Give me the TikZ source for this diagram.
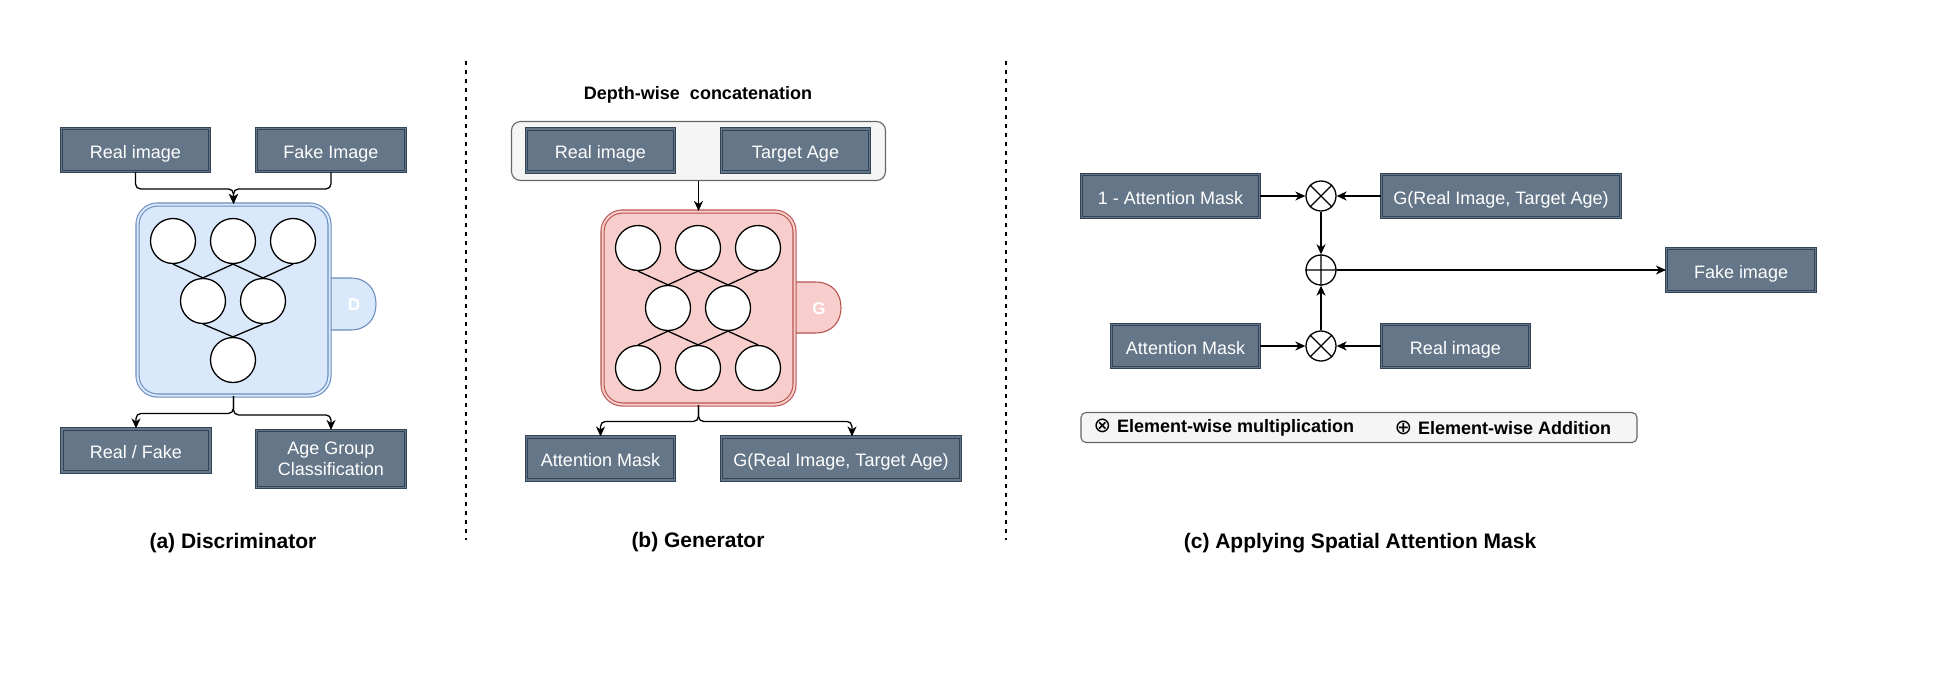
\documentclass[tikz,border=0pt]{standalone}
\usepackage{fontspec}
\setmainfont{Liberation Sans}
\newfontfamily\symfont{DejaVu Sans}
\usetikzlibrary{arrows.meta}
\definecolor{boxfill}{HTML}{647687}
\definecolor{boxline}{HTML}{314354}
\definecolor{dfill}{HTML}{DAE8FC}
\definecolor{dline}{HTML}{6C8EBF}
\definecolor{gfill}{HTML}{F8CECC}
\definecolor{gline}{HTML}{B85450}
\definecolor{catfill}{HTML}{F5F5F5}
\definecolor{catline}{HTML}{666666}
\tikzset{
  arr/.style={-{Stealth[length=10pt,width=9pt,inset=3pt]}, line width=1.3pt},
  link/.style={line width=1.3pt},
  darkbox/.style={draw=boxline, fill=boxfill, double=boxfill, double distance=1.6pt, line width=1.1pt,
    text=white, minimum height=43pt, inner sep=2pt, font=\fontsize{18}{21}\selectfont, align=center,
    text height=17pt, text depth=0.4pt},
  netbox/.style={draw=#1line, fill=#1fill, double=#1fill, double distance=2pt, line width=1.1pt, rounded corners=20pt},
  tabshape/.style={draw=#1line, fill=#1fill, line width=1.1pt},
  neuron/.style={circle, draw, fill=white, line width=1.3pt, minimum size=45pt, inner sep=0pt},
  opnode/.style={circle, draw, fill=white, line width=1.3pt, minimum size=30pt, inner sep=0pt},
  panelbox/.style={draw=catline, fill=catfill, line width=1.1pt},
  subcap/.style={font=\fontsize{21}{25}\selectfont\bfseries},
  sep/.style={line width=1.5pt, dash pattern=on 4pt off 5pt},
}
\newcommand\legsym[1]{{\symfont\mdseries\fontsize{21}{21}\selectfont #1}\hspace{6pt}}
\begin{document}
\begin{tikzpicture}[x=1pt, y=-1pt]
\useasboundingbox (0,0) rectangle (1937,677);

% (a) discriminator
\draw[tabshape=d] (320,278) -- (350,278) .. controls (368,278) and (376,290) .. (376,304)
  .. controls (376,318) and (368,330) .. (350,330) -- (320,330);
\node[text=white, font=\fontsize{17}{20}\selectfont\bfseries] (dTab) at (354,305) {D};
\node[netbox=d, minimum width=192pt, minimum height=191pt] (disc) at (233.5,300) {};
\node[darkbox, minimum width=148pt] (dReal) at (135.5,150) {Real image};
\node[darkbox, minimum width=149pt] (dFake) at (331,150) {Fake Image};
\node[darkbox, minimum width=148pt] (dRF) at (136,450.5) {Real / Fake};
\node[darkbox, minimum width=149pt, minimum height=57pt, text height={}, text depth={}] (dAge) at (331,459) {Age Group\\Classification};
\foreach \n/\x/\y in {t1/173/241, t2/233/241, t3/293/241, m1/203/301, m2/263/301, b1/233/360}
  \node[neuron] (d\n) at (\x,\y) {};
\draw[link] (dt1.south) -- (dm1.north) (dt2.south) -- (dm1.north)
  (dt2.south) -- (dm2.north) (dt3.south) -- (dm2.north)
  (dm1.south) -- (db1.north) (dm2.south) -- (db1.north);
\draw[arr, rounded corners=5pt] (dReal.south) |- ([yshift=15pt]disc.north) -- (disc.north);
\draw[arr, rounded corners=5pt] (dFake.south) |- ([yshift=15pt]disc.north) -- (disc.north);
\draw[arr, rounded corners=5pt] (disc.south) |- ([yshift=15pt]dRF.north) -- (dRF.north);
\draw[arr, rounded corners=5pt] (disc.south) |- ([yshift=15pt]dAge.north) -- (dAge.north);
\node[subcap] (capA) at (233,543) {(a) Discriminator};

\draw[sep] (466,61) -- (466,540);

% (b) generator
\node[font=\fontsize{18}{21}\selectfont\bfseries] (gCat) at (698,95) {Depth-wise\ \ concatenation};
\node[panelbox, rounded corners=9pt, minimum width=374pt, minimum height=59pt] (gIn) at (698.5,151) {};
\node[darkbox, minimum width=148pt] (gReal) at (600.5,150.5) {Real image};
\node[darkbox, minimum width=148pt] (gAge) at (795.5,150.5) {Target Age};
\draw[tabshape=g] (785,282) -- (815,282) .. controls (833,282) and (841,294) .. (841,307.5)
  .. controls (841,321) and (833,333) .. (815,333) -- (785,333);
\node[text=white, font=\fontsize{17}{20}\selectfont\bfseries] (gTab) at (819,309) {G};
\node[netbox=g, minimum width=192pt, minimum height=193pt] (gen) at (698.5,308) {};
\foreach \n/\x/\y in {t1/638/248, t2/698/248, t3/758/248, m1/668/308, m2/728/308,
  b1/638/368, b2/698/368, b3/758/368}
  \node[neuron] (g\n) at (\x,\y) {};
\draw[link] (gt1.south) -- (gm1.north) (gt2.south) -- (gm1.north)
  (gt2.south) -- (gm2.north) (gt3.south) -- (gm2.north)
  (gm1.south) -- (gb1.north) (gm1.south) -- (gb2.north)
  (gm2.south) -- (gb2.north) (gm2.south) -- (gb3.north);
\draw[arr] (gIn.south) -- (gen.north);
\node[darkbox, minimum width=148pt] (gMask) at (600.5,458.5) {Attention Mask};
\node[darkbox, minimum width=239pt] (gOut) at (841,458.5) {G(Real Image, Target Age)};
\draw[arr, rounded corners=5pt] (gen.south) |- ([yshift=15pt]gMask.north) -- (gMask.north);
\draw[arr, rounded corners=5pt] (gen.south) |- ([xshift=11pt, yshift=15pt]gOut.north) -- ([xshift=11pt]gOut.north);
\node[subcap] (capB) at (698,542) {(b) Generator};

\draw[sep] (1006,61) -- (1006,540);

% (c) attention mask
\node[darkbox, minimum width=178pt] (cInv) at (1170.5,196) {1 - Attention Mask};
\node[darkbox, minimum width=239pt] (cG) at (1501,196) {G(Real Image, Target Age)};
\node[darkbox, minimum width=148pt] (cMask) at (1185.5,346) {Attention Mask};
\node[darkbox, minimum width=148pt] (cReal) at (1455.5,346) {Real image};
\node[darkbox, minimum width=149pt] (cFake) at (1741,270) {Fake image};
\node[opnode] (mulT) at (1321,196) {};
\node[opnode] (add) at (1321,270) {};
\node[opnode] (mulB) at (1321,346) {};
\draw[link] (mulT.north west) -- (mulT.south east) (mulT.north east) -- (mulT.south west)
  (mulB.north west) -- (mulB.south east) (mulB.north east) -- (mulB.south west)
  (add.north) -- (add.south) (add.west) -- (add.east);
\draw[arr] (cInv) -- (mulT);
\draw[arr] (cG) -- (mulT);
\draw[arr] (cMask) -- (mulB);
\draw[arr] (cReal) -- (mulB);
\draw[arr] (mulT) -- (add);
\draw[arr] (mulB) -- (add);
\draw[arr] (add) -- (cFake);
\node[panelbox, rounded corners=5pt, minimum width=556pt, minimum height=30pt] (legend) at (1359,427.5) {};
\node[anchor=west, font=\fontsize{18}{21}\selectfont\bfseries] (legMul) at (1090,428) {\legsym{⊗}Element-wise multiplication};
\node[anchor=west, font=\fontsize{18}{21}\selectfont\bfseries] (legAdd) at (1391,428) {\legsym{⊕}Element-wise Addition};
\node[subcap] (capC) at (1360,543) {(c) Applying Spatial Attention Mask};
\end{tikzpicture}
\end{document}
